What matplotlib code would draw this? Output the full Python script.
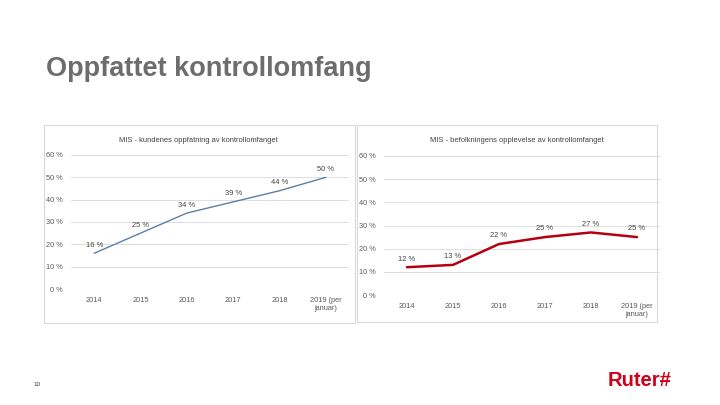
import matplotlib.pyplot as plt
from matplotlib.patches import Rectangle

plt.rcParams['font.family'] = ['Liberation Sans', 'DejaVu Sans']

years = ['2014', '2015', '2016', '2017', '2018', '2019 (per\njanuar)']
kunder = [16, 25, 34, 39, 44, 50]
befolkning = [12, 13, 22, 25, 27, 25]
yticks = [0, 10, 20, 30, 40, 50, 60]

W, H = 720, 405
fig = plt.figure(figsize=(7.2, 4.05), dpi=100)
fig.patch.set_facecolor('white')


def px_axes(x0, y0, x1, y1):
    # pixel box (from top-left) -> figure axes
    return fig.add_axes([x0 / W, 1 - y1 / H, (x1 - x0) / W, (y1 - y0) / H])


def box(x0, y0, x1, y1):
    fig.patches.append(Rectangle((x0 / W, 1 - y1 / H), (x1 - x0) / W, (y1 - y0) / H,
                                 transform=fig.transFigure, fill=False,
                                 edgecolor='#d9d9d9', linewidth=0.8))


def chart(ax, values, color, lw, title, title_xy):
    x = range(len(values))
    ax.plot(x, values, color=color, linewidth=lw, solid_capstyle='round')
    for i, v in enumerate(values):
        ax.text(i, v + 2.0, f'{v} %', ha='center', va='bottom', fontsize=5.4, color='#404040')
    ax.set_xlim(-0.5, len(values) - 0.5)
    ax.set_ylim(0, 60)
    ax.set_yticks(yticks)
    ax.set_yticklabels([f'{t} %' for t in yticks])
    ax.set_xticks(list(x))
    ax.set_xticklabels(years)
    ax.grid(axis='y', color='#d9d9d9', linewidth=0.6)
    ax.set_axisbelow(True)
    for s in ax.spines.values():
        s.set_visible(False)
    ax.tick_params(length=0, labelsize=5.3, labelcolor='#595959', pad=6)
    fig.text(title_xy[0] / W, 1 - title_xy[1] / H, title, ha='center', va='center',
             fontsize=5.4, color='#404040')


box(44, 125, 355, 323)
box(357, 125, 657, 322)

ax1 = px_axes(71, 155, 349, 289)
chart(ax1, kunder, '#5a7fa8', 1.0, 'MIS - kundenes oppfatning av kontrollomfanget', (198, 141))

ax2 = px_axes(384, 156, 660, 295)
chart(ax2, befolkning, '#b50012', 1.8, 'MIS - befolkningens opplevelse av kontrollomfanget', (517, 141))

fig.text(46 / W, 1 - 69 / H, 'Oppfattet kontrollomfang', fontsize=19.5, fontweight='bold',
         color='#6d6d6d', va='center', ha='left')
fig.text(33 / W, 1 - 384 / H, '10', fontsize=4.5, color='#333333', va='center')
fig.text(608 / W, 1 - 381 / H, 'Ruter#', fontsize=14.5, fontweight='bold',
         color='#d0001a', va='center', ha='left')

fig.savefig('out.png', dpi=100, facecolor='white')
